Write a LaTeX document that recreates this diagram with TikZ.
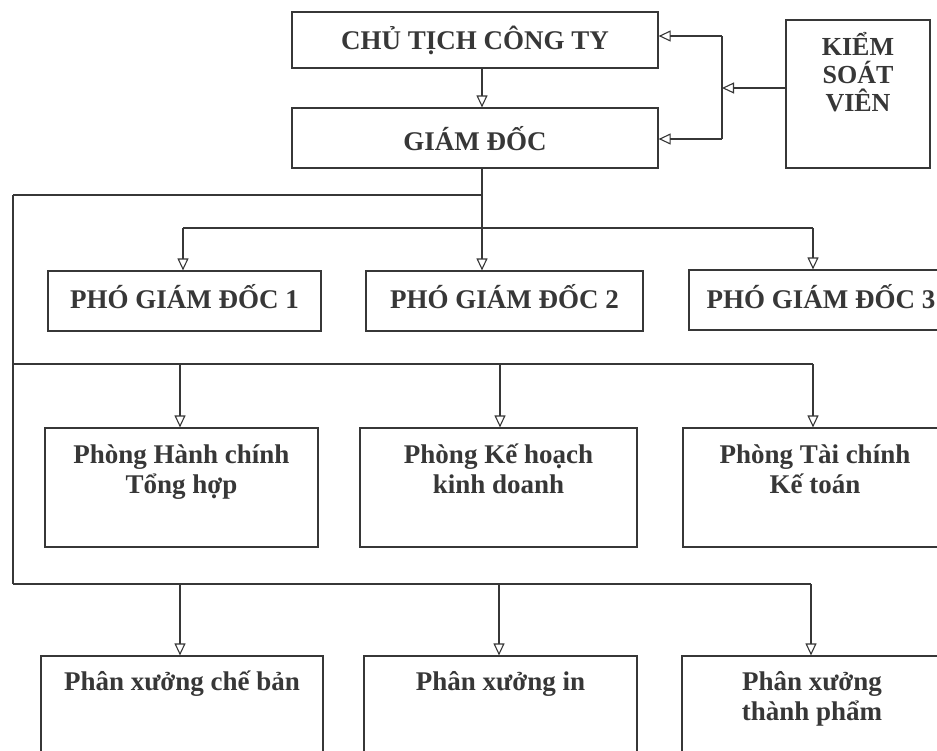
\documentclass[tikz,border=0pt]{standalone}
\usepackage{fontspec}
\setmainfont{Liberation Serif}
\usetikzlibrary{arrows.meta}
\definecolor{ink}{RGB}{55,55,55}
\newcommand\bxt[2]{\parbox[t]{#1pt}{\centering #2}}
\begin{document}
\begin{tikzpicture}[x=1pt,y=-1pt,
  box/.style={draw=ink, line width=1.2pt, inner sep=0pt, anchor=base, text=ink,
    font=\bfseries\fontsize{27}{30}\selectfont},
  con/.style={draw=ink, line width=1.2pt},
  arr/.style={con, -{Triangle[open, length=12pt, width=11pt, line width=1.1pt]}}]
\useasboundingbox (0,0) rectangle (937,750);
\fill[white] (0,0) rectangle (937,750);
\clip (0,0) rectangle (937,750);

% top level
\node[box, text height=37pt, text depth=19pt] (ct) at (475,49) {\bxt{366}{CHỦ TỊCH CÔNG TY}};
\node[box, text height=42pt, text depth=18pt] (gd) at (475,150) {\bxt{366}{GIÁM ĐỐC}};
\node[box, text height=35pt, text depth=113pt, font=\bfseries\fontsize{26}{28}\selectfont] (ksv) at (858,55) {\bxt{144}{KIỂM\\SOÁT\\VIÊN}};

% deputies
\node[box, text height=37pt, text depth=23pt] (pgd1) at (184.5,308) {\bxt{273}{PHÓ GIÁM ĐỐC 1}};
\node[box, text height=37pt, text depth=23pt] (pgd2) at (504.5,308) {\bxt{277}{PHÓ GIÁM ĐỐC 2}};
\node[box, text height=38pt, text depth=22pt] (pgd3) at (821,308) {\bxt{264}{PHÓ GIÁM ĐỐC 3}};

% departments
\node[box, text height=35pt, text depth=84pt] (phc) at (181.5,463) {\bxt{273}{Phòng Hành chính\\Tổng hợp}};
\node[box, text height=35pt, text depth=84pt] (pkh) at (498.5,463) {\bxt{277}{Phòng Kế hoạch\\kinh doanh}};
\node[box, text height=35pt, text depth=84pt] (ptc) at (815,463) {\bxt{264}{Phòng Tài chính\\Kế toán}};

% workshops
\node[box, text height=34pt, text depth=90pt] (px1) at (182,690) {\bxt{282}{Phân xưởng chế bản}};
\node[box, text height=34pt, text depth=90pt] (px2) at (500.5,690) {\bxt{273}{Phân xưởng in}};
\node[box, text height=34pt, text depth=90pt] (px3) at (812,690) {\bxt{260}{Phân xưởng\\thành phẩm}};

% supervisor bracket
\coordinate (kx) at (722,88);
\coordinate (k1) at (722,36);
\coordinate (k2) at (722,139);
\draw[arr] (ksv.west |- kx) -- (kx);
\draw[con] (k1) -- (k2);
\draw[arr] (k1) -- (k1 -| ct.east);
\draw[arr] (k2) -- (k2 -| gd.east);

% chairman -> director
\coordinate (cg) at (482,68);
\draw[arr] (cg |- ct.south) -- (cg |- gd.north);

% director -> deputies
\coordinate (g) at (482,195);
\coordinate (l0) at (13,195);
\coordinate (l1) at (13,364);
\coordinate (l2) at (13,584);
\draw[con] (l0) -- (g);
\draw[arr] (g |- gd.south) -- (g |- pgd2.north);
\coordinate (b1a) at (183,228);
\coordinate (b1c) at (813,228);
\draw[con] (b1a) -- (b1c);
\draw[arr] (b1a) -- (b1a |- pgd1.north);
\draw[arr] (b1c) -- (b1c |- pgd3.north);

% left spine
\draw[con] (l0) -- (l2);

% departments bus
\coordinate (b2a) at (180,364);
\coordinate (b2b) at (500,364);
\coordinate (b2c) at (813,364);
\draw[con] (l1) -- (b2c);
\draw[arr] (b2a) -- (b2a |- phc.north);
\draw[arr] (b2b) -- (b2b |- pkh.north);
\draw[arr] (b2c) -- (b2c |- ptc.north);

% workshops bus
\coordinate (b3a) at (180,584);
\coordinate (b3b) at (499,584);
\coordinate (b3c) at (811,584);
\draw[con] (l2) -- (b3c);
\draw[arr] (b3a) -- (b3a |- px1.north);
\draw[arr] (b3b) -- (b3b |- px2.north);
\draw[arr] (b3c) -- (b3c |- px3.north);
\end{tikzpicture}
\end{document}
